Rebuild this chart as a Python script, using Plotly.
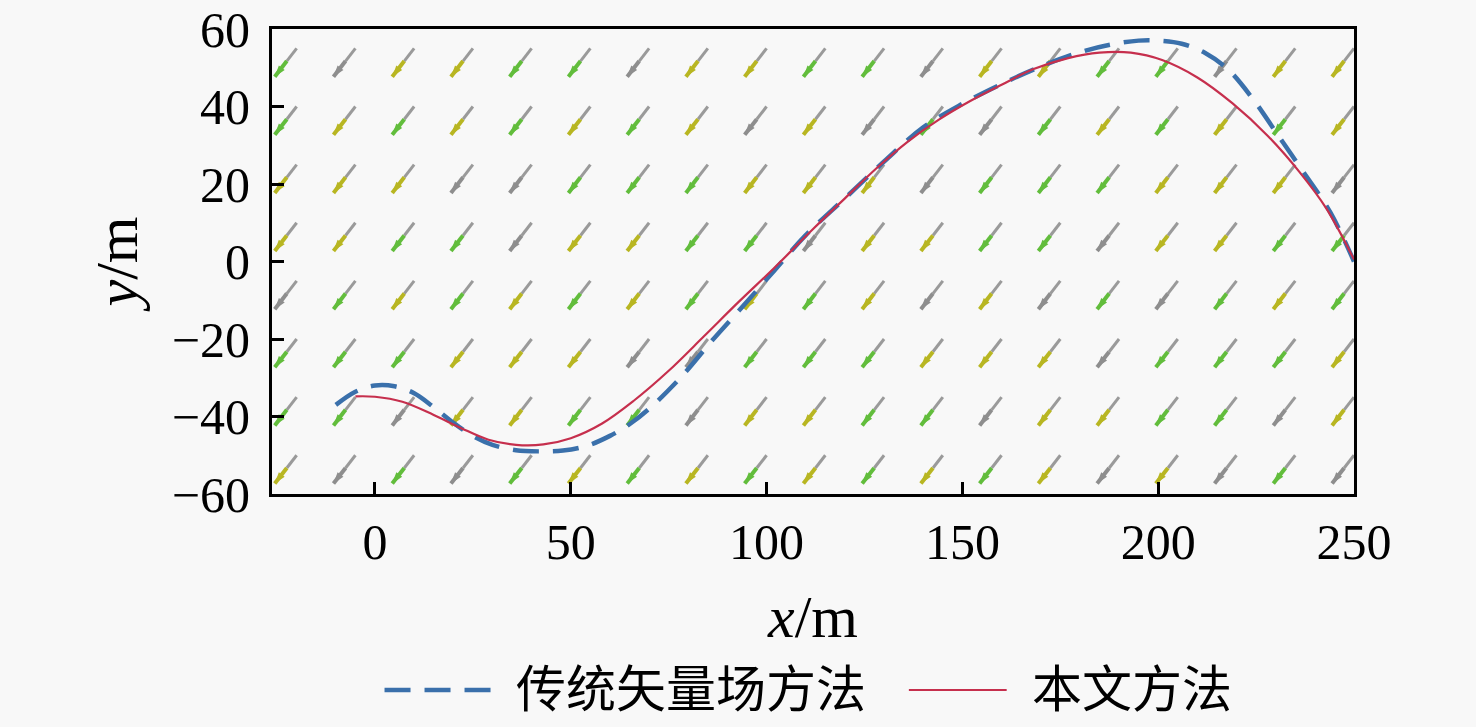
import plotly.graph_objects as go

# campo vetorial (grade das caudas das setas)
grid_x = [-20, -5, 10, 25, 40, 55, 70, 85, 100, 115, 130, 145, 160, 175, 190, 205, 220, 235, 250]
grid_y = [55, 40, 25, 10, -5, -20, -35, -50]
vec_u = -5.6
vec_v = -7.3

# 传统矢量场方法
trad_x = [-10, -5, 0, 5, 10, 15, 20, 25, 30, 36, 42, 48, 54, 60, 65, 70, 78, 86,
          94, 102, 110, 120, 130, 140, 150, 160, 170, 180, 188, 195, 200, 206, 212,
          218, 224, 231, 237, 244, 250]
trad_y = [-37, -33.6, -32, -32.2, -34, -37.6, -41.6, -45, -47.3, -48.7, -49, -48.8, -47.6,
          -45, -42, -38, -30, -20.5, -11.5, -2.3, 6.8, 16.3, 25.8, 34.6, 40.7, 45.8, 50.3,
          54, 56, 57, 57, 56.2, 53.8, 49.4, 42.2, 32, 23.2, 12.6, 0]

# 本文方法
prop_x = [-5, 0, 7, 15, 22, 29, 36, 43, 50, 58, 66, 75, 84, 93, 102, 112, 120,
          128, 136, 144, 152, 160, 168, 177, 185, 193, 201, 210, 219, 228, 236, 243, 250]
prop_y = [-34.8, -34.9, -36.2, -39.6, -43, -46, -47.3, -47.2, -45.6, -41.8, -36, -28.2, -19.3,
          -10.3, -1.6, 8.5, 16.3, 24, 30.9, 36.6, 41.4, 45.6, 49.6, 52.5, 53.9, 53.9, 52, 47.5,
          40.8, 32.4, 23.2, 13.6, 0.5]

trad_name = '传统矢量场方法'
prop_name = '本文方法'

head_colors = ['#62bd3c', '#b8b622', '#62bd3c', '#8e8e8e', '#b8b622']
trad_color = '#3a70ab'
prop_color = '#c62f4d'
font_fam = 'Liberation Serif, Noto Sans CJK SC, serif'

fig = go.Figure()

# setas: parte de cima cinza, parte de baixo colorida com ponta
uniq_colors = list(dict.fromkeys(head_colors))
gray_x, gray_y = [], []
col_x = {c: [] for c in uniq_colors}
col_y = {c: [] for c in uniq_colors}
tip_x = {c: [] for c in uniq_colors}
tip_y = {c: [] for c in uniq_colors}
for i, gx in enumerate(grid_x):
    for j, gy in enumerate(grid_y):
        c = head_colors[(i * 3 + j * 2 + (i * j) % 3) % len(head_colors)]
        mx, my = gx + vec_u * 0.45, gy + vec_v * 0.45
        hx, hy = gx + vec_u, gy + vec_v
        gray_x += [gx, mx, None]
        gray_y += [gy, my, None]
        col_x[c] += [mx, hx, None]
        col_y[c] += [my, hy, None]
        tip_x[c].append(hx)
        tip_y[c].append(hy)

fig.add_trace(go.Scatter(x=gray_x, y=gray_y, mode='lines', showlegend=False,
                         line=dict(color='#9a9a9a', width=3), hoverinfo='skip'))
for c in uniq_colors:
    fig.add_trace(go.Scatter(x=col_x[c], y=col_y[c], mode='lines', showlegend=False,
                             line=dict(color=c, width=4), hoverinfo='skip'))
    fig.add_trace(go.Scatter(x=tip_x[c], y=tip_y[c], mode='markers', showlegend=False,
                             marker=dict(symbol='arrow', size=12, angle=218, color=c,
                                         line=dict(width=0)),
                             hoverinfo='skip'))

fig.add_trace(go.Scatter(x=trad_x, y=trad_y, mode='lines', name=trad_name, showlegend=False,
                         line=dict(color=trad_color, width=4.5, dash='26px,14px', shape='spline')))
fig.add_trace(go.Scatter(x=prop_x, y=prop_y, mode='lines', name=prop_name, showlegend=False,
                         line=dict(color=prop_color, width=2.2, shape='spline')))

# legenda feita à mão (a do plotly não deixa o traço mais comprido)
leg_y = -0.4215
shapes = [
    dict(type='line', xref='paper', yref='paper', x0=0.104, x1=0.203, y0=leg_y, y1=leg_y,
         line=dict(color=trad_color, width=4.5, dash='26px,14px')),
    dict(type='line', xref='paper', yref='paper', x0=0.5886, x1=0.679, y0=leg_y, y1=leg_y,
         line=dict(color=prop_color, width=2.2)),
]
annotations = [
    dict(text=trad_name, xref='paper', yref='paper', x=0.2232, y=leg_y, xanchor='left',
         yanchor='middle', showarrow=False, font=dict(size=50)),
    dict(text=prop_name, xref='paper', yref='paper', x=0.701, y=leg_y, xanchor='left',
         yanchor='middle', showarrow=False, font=dict(size=50)),
]

fig.update_layout(
    width=1476, height=727,
    margin=dict(l=272, r=122, t=29, b=233),
    paper_bgcolor='#f8f8f8',
    plot_bgcolor='#f8f8f8',
    font=dict(family=font_fam, size=50, color='black'),
    showlegend=False,
    shapes=shapes,
    annotations=annotations,
)

fig.update_xaxes(
    range=[-26.3, 250], tickvals=[0, 50, 100, 150, 200, 250],
    showline=True, mirror=True, linecolor='black', linewidth=3,
    ticks='inside', ticklen=12, tickwidth=2.5, tickcolor='black',
    showgrid=False, zeroline=False, automargin=False, ticklabelstandoff=2,
    ticklabeloverflow='allow',
    title=dict(text='<i>x</i>/m', standoff=26),
)
fig.update_yaxes(
    range=[-60, 60], tickvals=[-60, -40, -20, 0, 20, 40, 60],
    showline=True, mirror=True, linecolor='black', linewidth=3,
    ticks='inside', ticklen=12, tickwidth=2.5, tickcolor='black',
    showgrid=False, zeroline=False, automargin=False, ticklabelstandoff=9,
    ticklabeloverflow='allow',
    title=dict(text='<i>y</i>/m', standoff=15),
)

# tira a margem do body da página para a figura começar no canto
fig.write_html('out.html', config={'displayModeBar': False},
               post_script="document.body.style.margin='0';"
               "document.body.style.background='#f8f8f8';")
